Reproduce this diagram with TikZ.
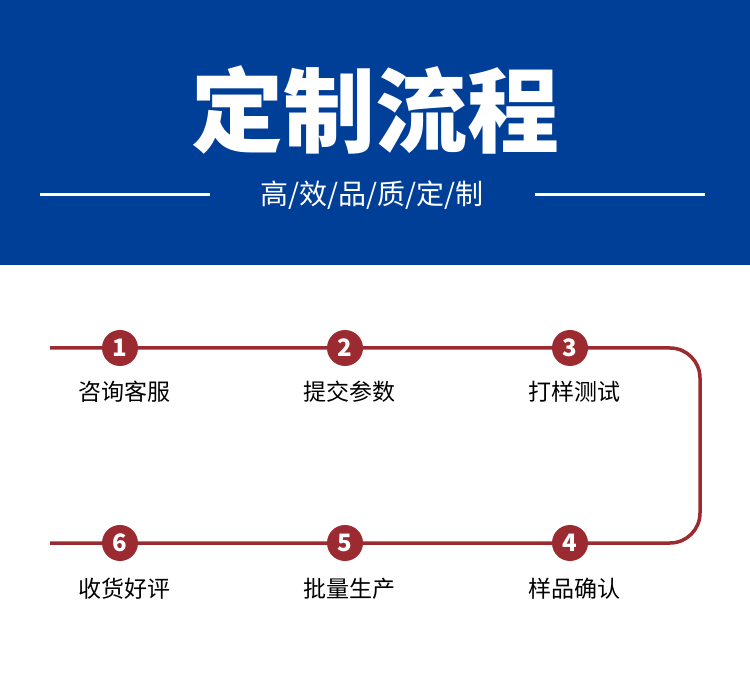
\documentclass[tikz,border=0pt]{standalone}
\usepackage{fontspec}
\newfontfamily\cjk{Noto Sans CJK SC}
\definecolor{hdr}{HTML}{003F98}
\definecolor{rd}{HTML}{9B2B30}
\tikzset{
 num/.style={circle,fill=rd,minimum size=36pt,inner sep=0pt,text=white,font=\cjk\bfseries\fontsize{24}{24}\selectfont},
 lbl/.style={font=\cjk\fontsize{23}{23}\selectfont,text=black},
 flow/.style={rd,line width=3.5pt},
}
\begin{document}
\begin{tikzpicture}[x=1pt,y=-1pt]
\useasboundingbox (0,0) rectangle (750,700);
\fill[hdr] (0,0) rectangle (750,265);
\node[text=white,font=\cjk\bfseries\fontsize{92}{92}\selectfont] (title) at (375,110) {定制流程};
\node[text=white,font=\cjk\fontsize{28}{28}\selectfont,inner sep=2pt] (sub) at (372,195) {高/效/品/质/定/制};
\coordinate (l1) at (40,195); \coordinate (l2) at (210,195);
\coordinate (r1) at (535,195); \coordinate (r2) at (705,195);
\draw[white,line width=3pt] (l1) -- (l2);
\draw[white,line width=3pt] (r1) -- (r2);
\coordinate (s) at (50,348); \coordinate (e) at (50,543);
\draw[flow,rounded corners=30pt] (s) -- (700,348) -- (700,543) -- (e);
\node[num] (n1) at (120,348) {1};
\node[num] (n2) at (345,348) {2};
\node[num] (n3) at (570,348) {3};
\node[num] (n4) at (570,543) {4};
\node[num] (n5) at (345,543) {5};
\node[num] (n6) at (120,543) {6};
\node[lbl] at (124,392) {咨询客服};
\node[lbl] at (349,392) {提交参数};
\node[lbl] at (574,392) {打样测试};
\node[lbl] at (574,589) {样品确认};
\node[lbl] at (349,589) {批量生产};
\node[lbl] at (124,589) {收货好评};
\end{tikzpicture}
\end{document}
